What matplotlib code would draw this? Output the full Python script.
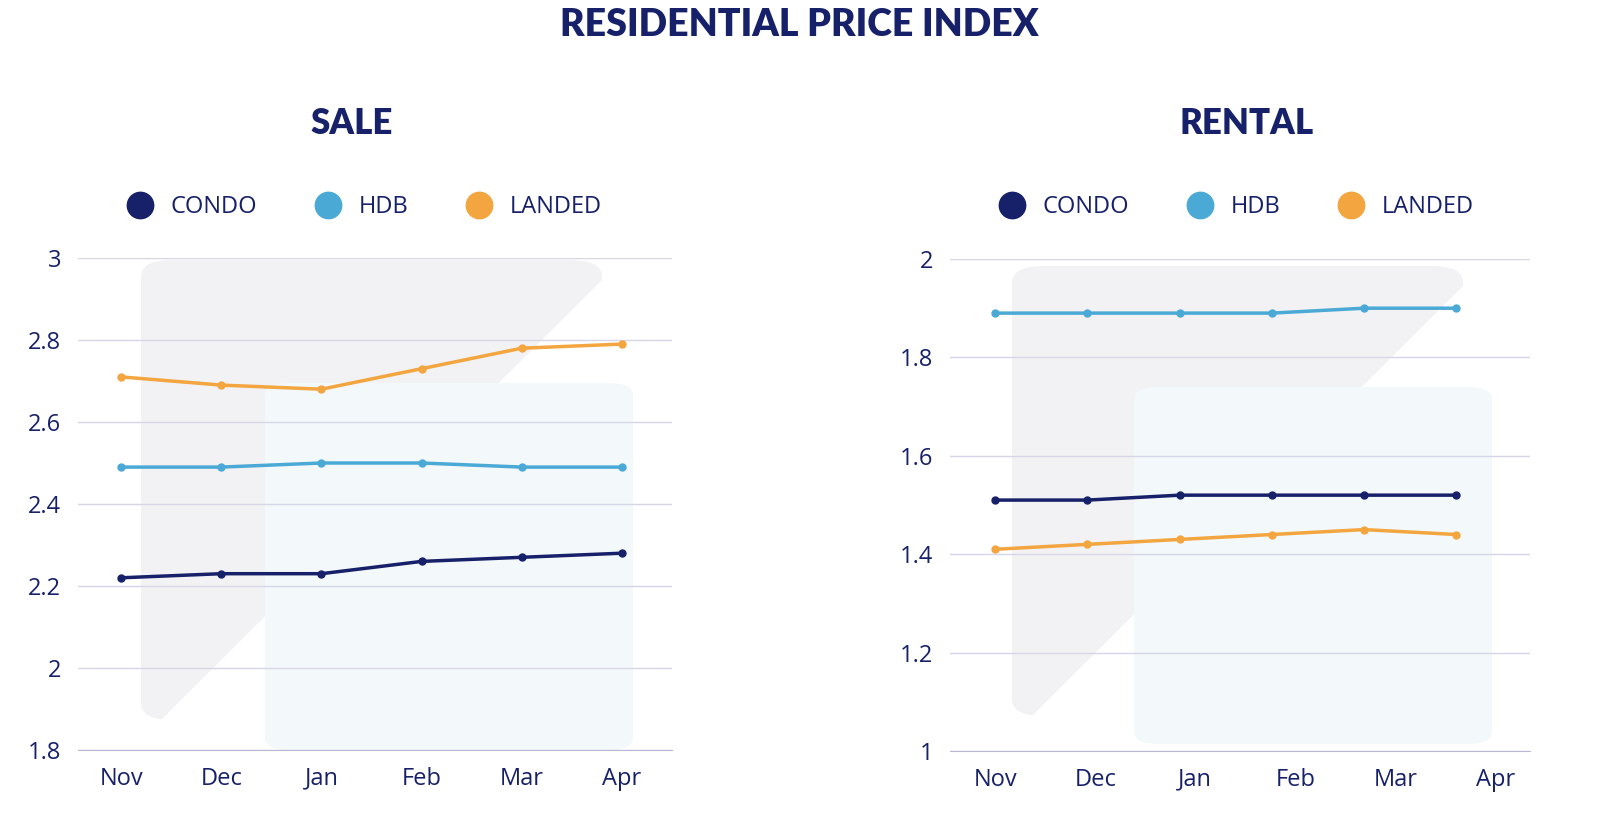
import matplotlib
matplotlib.use("Agg")
import matplotlib.pyplot as plt
from matplotlib.patches import Polygon, FancyBboxPatch
from matplotlib.lines import Line2D

months = ["Nov", "Dec", "Jan", "Feb", "Mar", "Apr"]
sale_condo = [2.22, 2.23, 2.23, 2.26, 2.27, 2.28]
sale_hdb = [2.49, 2.49, 2.50, 2.50, 2.49, 2.49]
sale_landed = [2.71, 2.69, 2.68, 2.73, 2.78, 2.79]
rent_condo = [1.51, 1.51, 1.52, 1.52, 1.52, 1.52]
rent_hdb = [1.89, 1.89, 1.89, 1.89, 1.90, 1.90]
rent_landed = [1.41, 1.42, 1.43, 1.44, 1.45, 1.44]

NAVY = "#17216a"
HDB = "#4ba9d6"
LAND = "#f3a53f"
GRID = "#d6d6e6"
FONT = "Open Sans"
TFONT = "Lato"

W, H = 1598, 826
fig = plt.figure(figsize=(W/100, H/100), dpi=100)

def fx(x): return x / W
def fy(y): return 1 - y / H

def deco(x0, y0, x1, y1, bx0, by0, bx1, by1):
    grey = FancyBboxPatch((fx(x0), fy(y1)), fx(x1 - x0), (y1 - y0) / H,
                          boxstyle="round,pad=0,rounding_size=0.02",
                          transform=fig.transFigure, fc="#f2f2f4", ec="none", zorder=-3)
    fig.patches.append(grey)
    tri = Polygon([(fx(x0 + 20), fy(y1)), (fx(x1), fy(y0 + 20)), (fx(x1 + 5), fy(y1 + 5))],
                  closed=True, transform=fig.transFigure, fc="white", ec="none", zorder=-2)
    fig.patches.append(tri)
    blue = FancyBboxPatch((fx(bx0), fy(by1)), fx(bx1 - bx0), (by1 - by0) / H,
                          boxstyle="round,pad=0,rounding_size=0.015",
                          transform=fig.transFigure, fc="#f3f8fb", ec="none", zorder=-1)
    fig.patches.append(blue)

deco(141, 260, 602, 720, 265, 383, 633, 750)
deco(1012, 266, 1463, 716, 1134, 387, 1492, 744)

fig.text(0.5, fy(25), "RESIDENTIAL PRICE INDEX", ha="center", va="center",
         fontsize=27, fontweight="heavy", color=NAVY, family=TFONT)

def panel(rect, title, tx, series, ylim, yticks, xlim, tickscale, legx):
    ax = fig.add_axes(rect)
    ax.set_facecolor("none")
    for vals, c in series:
        ax.plot(range(len(vals)), vals, color=c, lw=2.5, marker="o", ms=5, zorder=3)
    ax.set_ylim(*ylim)
    ax.set_xlim(*xlim)
    ax.set_yticks(yticks)
    ax.set_yticklabels([f"{t:g}" for t in yticks])
    ax.set_xticks([i * tickscale for i in range(len(months))])
    ax.set_xticklabels(months)
    ax.grid(axis="y", color=GRID, lw=1)
    ax.set_axisbelow(True)
    for s in ["top", "right", "left"]:
        ax.spines[s].set_visible(False)
    ax.spines["bottom"].set_color("#b8b8d4")
    ax.tick_params(length=0, labelsize=17, colors=NAVY, pad=12)
    for l in ax.get_xticklabels() + ax.get_yticklabels():
        l.set_family(FONT)
    fig.text(fx(tx), fy(123), title, ha="center", va="center", fontsize=25,
             fontweight="heavy", color=NAVY, family=TFONT)
    handles = [Line2D([], [], ls="", marker="o", ms=19, color=c) for c in (NAVY, HDB, LAND)]
    fig.legend(handles, ["CONDO", "HDB", "LANDED"], loc="center left",
               bbox_to_anchor=(fx(legx), fy(207)), ncol=3, frameon=False,
               handletextpad=0.3, columnspacing=2.0,
               prop={"family": FONT, "size": 17}, labelcolor=NAVY)
    return ax

panel([78/W, 76/H, 594/W, 492/H], "SALE", 352,
      [(sale_condo, NAVY), (sale_hdb, HDB), (sale_landed, LAND)],
      (1.8, 3.0), [1.8, 2, 2.2, 2.4, 2.6, 2.8, 3], (-0.43, 5.5), 1.0, 95)
panel([950/W, 75/H, 580/W, 492/H], "RENTAL", 1247,
      [(rent_condo, NAVY), (rent_hdb, HDB), (rent_landed, LAND)],
      (1.0, 2.0), [1, 1.2, 1.4, 1.6, 1.8, 2], (-0.49, 5.8), 1.085, 967)

fig.savefig("out.png", dpi=100)
